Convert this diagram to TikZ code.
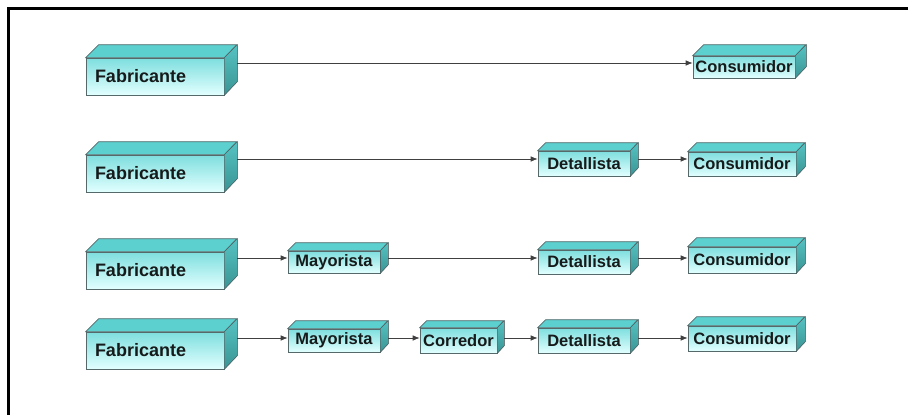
\documentclass[tikz,border=0pt]{standalone}
\usepackage{fontspec}
\setmainfont{Liberation Sans}
\usetikzlibrary{arrows.meta,calc}

\definecolor{tapacol}{HTML}{5CCFCF}
\definecolor{ladoarr}{HTML}{56C2C2}
\definecolor{ladoab}{HTML}{3A9494}
\definecolor{caraarr}{HTML}{7EDEDE}
\definecolor{caraab}{HTML}{E2FFFF}
\definecolor{borde}{HTML}{55696B}
\definecolor{letra}{HTML}{161A1A}

\tikzset{
  cara/.style={draw=borde, line width=0.6pt, top color=caraarr, bottom color=caraab,
    inner sep=0pt, font=\bfseries\fontsize{16.5}{18}\selectfont, text=letra},
  cajag/.style={cara, font=\bfseries\fontsize{18}{20}\selectfont, align=left},
  cajap/.style={cara},
  tapa/.style={draw=borde, line width=0.6pt, fill=tapacol},
  lado/.style={draw=borde, line width=0.6pt, top color=ladoarr, bottom color=ladoab},
  flecha/.style={-{Latex[length=7pt,width=5.5pt]}, draw=black!75, line width=0.7pt}
}

% #1 style, #2 name, #3 x, #4 y, #5 width, #6 height, #7 depth, #8 text
\newcommand{\caja}[8]{
  \node[#1, minimum width=#5, minimum height=#6] (#2) at (#3+#5/2,#4+#6/2) {#8};
  \filldraw[tapa] (#2.north west) -- ++(#7,-#7) -- ++(#5,0) -- (#2.north east) -- cycle;
  \filldraw[lado] (#2.north east) -- ++(#7,-#7) -- ++(0,#6) -- (#2.south east) -- cycle;
  \coordinate (#2-d) at ([xshift=#7]#2.east);
}

\begin{document}
\begin{tikzpicture}[x=1pt,y=-1pt]
  \useasboundingbox (0,0) rectangle (908,415);
  \draw[line width=3pt] (8.5,415) -- (8.5,8) -- (908,8);

  % fila 1
  \caja{cajag, text width=120pt}{fab1}{86}{58}{138}{37}{13}{Fabricante}
  \caja{cajap}{con1}{693}{56}{102}{22}{11}{Consumidor}
  \coordinate (f1) at (0,63);
  \draw[flecha] (fab1-d |- f1) -- (con1.west |- f1);

  % fila 2
  \caja{cajag, text width=120pt}{fab2}{86}{155}{138}{37}{13}{Fabricante}
  \caja{cajap}{det2}{538}{151}{92}{25}{8}{Detallista}
  \caja{cajap}{con2}{688}{152}{108}{24}{9}{Consumidor}
  \coordinate (f2) at (0,159);
  \draw[flecha] (fab2-d |- f2) -- (det2.west |- f2);
  \draw[flecha] (det2-d |- f2) -- (con2.west |- f2);

  % fila 3
  \caja{cajag, text width=120pt}{fab3}{86}{252}{138}{37}{13}{Fabricante}
  \caja{cajap}{may3}{288}{251}{92}{22}{8}{Mayorista}
  \caja{cajap}{det3}{538}{250}{92}{24}{8}{Detallista}
  \caja{cajap}{con3}{688}{247}{108}{26}{9}{Consumidor}
  \coordinate (f3) at (0,258);
  \draw[flecha] (fab3-d |- f3) -- (may3.west |- f3);
  \draw[flecha] (may3-d |- f3) -- (det3.west |- f3);
  \draw[flecha] (det3-d |- f3) -- (con3.west |- f3);

  % fila 4
  \caja{cajag, text width=120pt}{fab4}{86}{332}{138}{37}{13}{Fabricante}
  \caja{cajap}{may4}{288}{329}{92}{23}{8}{Mayorista}
  \caja{cajap}{cor4}{420}{328}{77}{25}{7}{Corredor}
  \caja{cajap}{det4}{538}{328}{92}{25}{8}{Detallista}
  \caja{cajap}{con4}{688}{326}{108}{25}{9}{Consumidor}
  \coordinate (f4) at (0,338);
  \draw[flecha] (fab4-d |- f4) -- (may4.west |- f4);
  \draw[flecha] (may4-d |- f4) -- (cor4.west |- f4);
  \draw[flecha] (cor4-d |- f4) -- (det4.west |- f4);
  \draw[flecha] (det4-d |- f4) -- (con4.west |- f4);
\end{tikzpicture}
\end{document}
